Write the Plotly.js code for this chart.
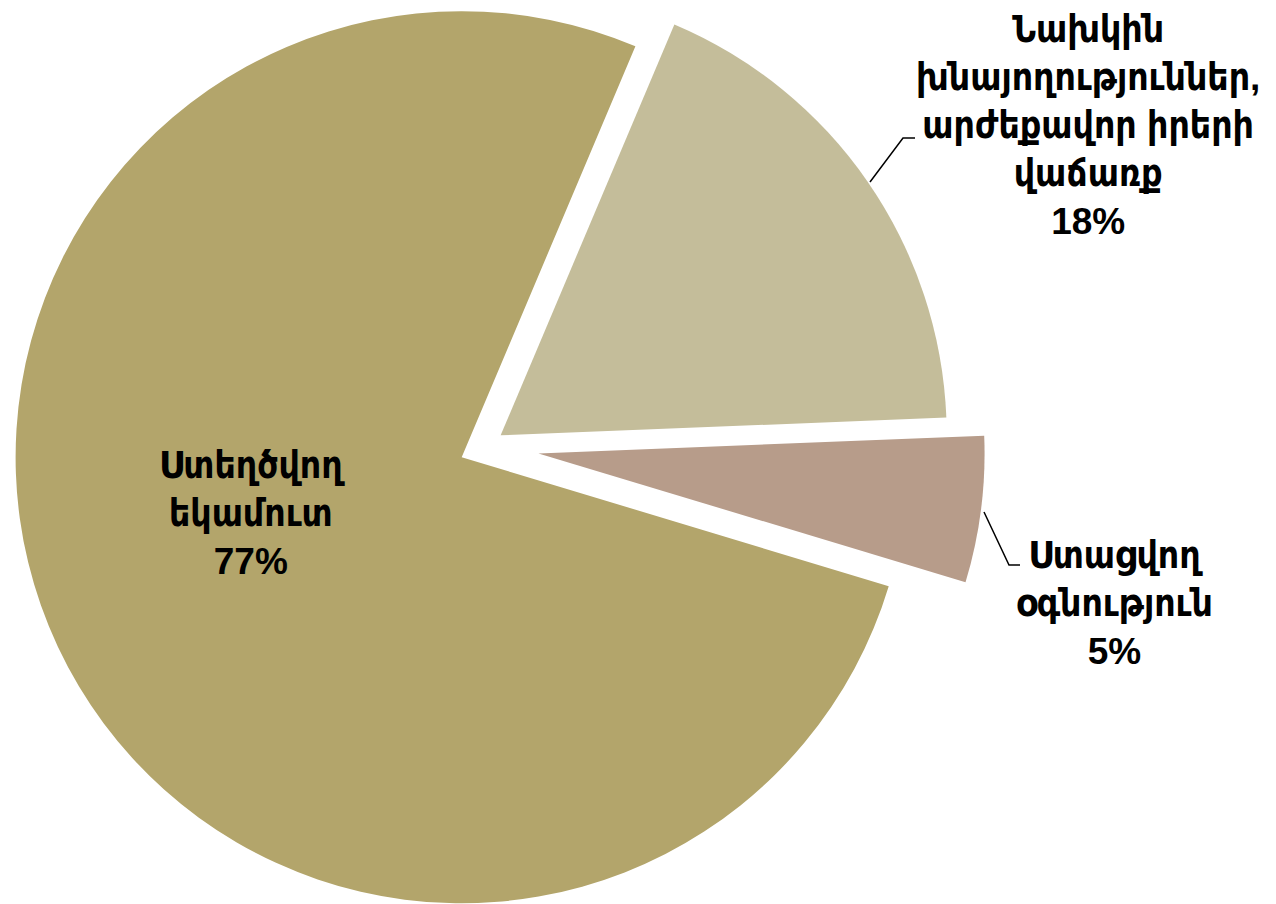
<!DOCTYPE html>
<html>
<head>
<meta charset="utf-8">
<script src="https://cdn.plot.ly/plotly-3.0.1.min.js"></script>
<style>
html, body { margin: 0; padding: 0; overflow: hidden; width: 1276px; height: 904px; background: #fff; }
#chart { position: absolute; left: -16px; top: -54px; width: 1292px; height: 1001px; }
</style>
</head>
<body>
<div id="chart"></div>
<script>
// ---- data ----
const categories = ['Ստեղծվող եկամուտ', 'Նախկին խնայողություններ, արժեքավոր իրերի վաճառք', 'Ստացվող օգնություն'];
const labelLines = [
  ['Ստեղծվող', 'եկամուտ'],
  ['Նախկին', 'խնայողություններ,', 'արժեքավոր իրերի', 'վաճառք'],
  ['Ստացվող', 'օգնություն']
];
const values = [76.7, 18.0, 5.3];
const colors = ['#B3A56B', '#C4BD9A', '#B79C8A'];
const pulls = [0.0565, 0.044, 0.122];

// ---- layout helpers (div geometry -> paper coords) ----
const DIV = { left: -16, top: -54, w: 1292, h: 1001 };
const px = x => (x - DIV.left) / DIV.w;
const py = y => 1 - (y - DIV.top) / DIV.h;

const total = values.reduce((a, b) => a + b, 0);
const pct = values.map(v => Math.round(v / total * 100) + '%');

const labelPos = [[252, 513], [1088, 125], [1114, 603]];
const font = { family: 'Liberation Sans, DejaVu Sans Condensed, DejaVu Sans, sans-serif', size: 37, color: '#000', weight: 'bold' };

const annotations = categories.map((c, i) => ({
  xref: 'paper', yref: 'paper',
  x: px(labelPos[i][0]), y: py(labelPos[i][1]),
  xanchor: 'center', yanchor: 'middle',
  text: '<b>' + labelLines[i].join('<br>') + '<br>' + pct[i] + '</b>',
  showarrow: false, align: 'center', font: font
}));

const connectors = [
  [[870, 182], [903, 138], [915, 138]],
  [[984, 512], [1009, 565], [1020, 565]]
].map(pts => ({
  type: 'path', xref: 'paper', yref: 'paper',
  path: 'M' + pts.map(p => px(p[0]) + ',' + py(p[1])).join(' L'),
  line: { color: '#000', width: 1.5 }
}));

const trace = {
  type: 'pie',
  labels: categories,
  values: values,
  sort: false,
  direction: 'clockwise',
  rotation: 106.8,
  pull: pulls,
  marker: { colors: colors, line: { width: 0 } },
  textinfo: 'none',
  hoverinfo: 'label+percent',
  domain: { x: [0, 1001 / 1292], y: [0, 1] },
  showlegend: false
};

const layout = {
  width: DIV.w, height: DIV.h,
  margin: { l: 0, r: 0, t: 0, b: 0 },
  paper_bgcolor: '#fff',
  showlegend: false,
  annotations: annotations,
  shapes: connectors
};

Plotly.newPlot('chart', [trace], layout, { displayModeBar: false, staticPlot: true });
</script>
</body>
</html>
